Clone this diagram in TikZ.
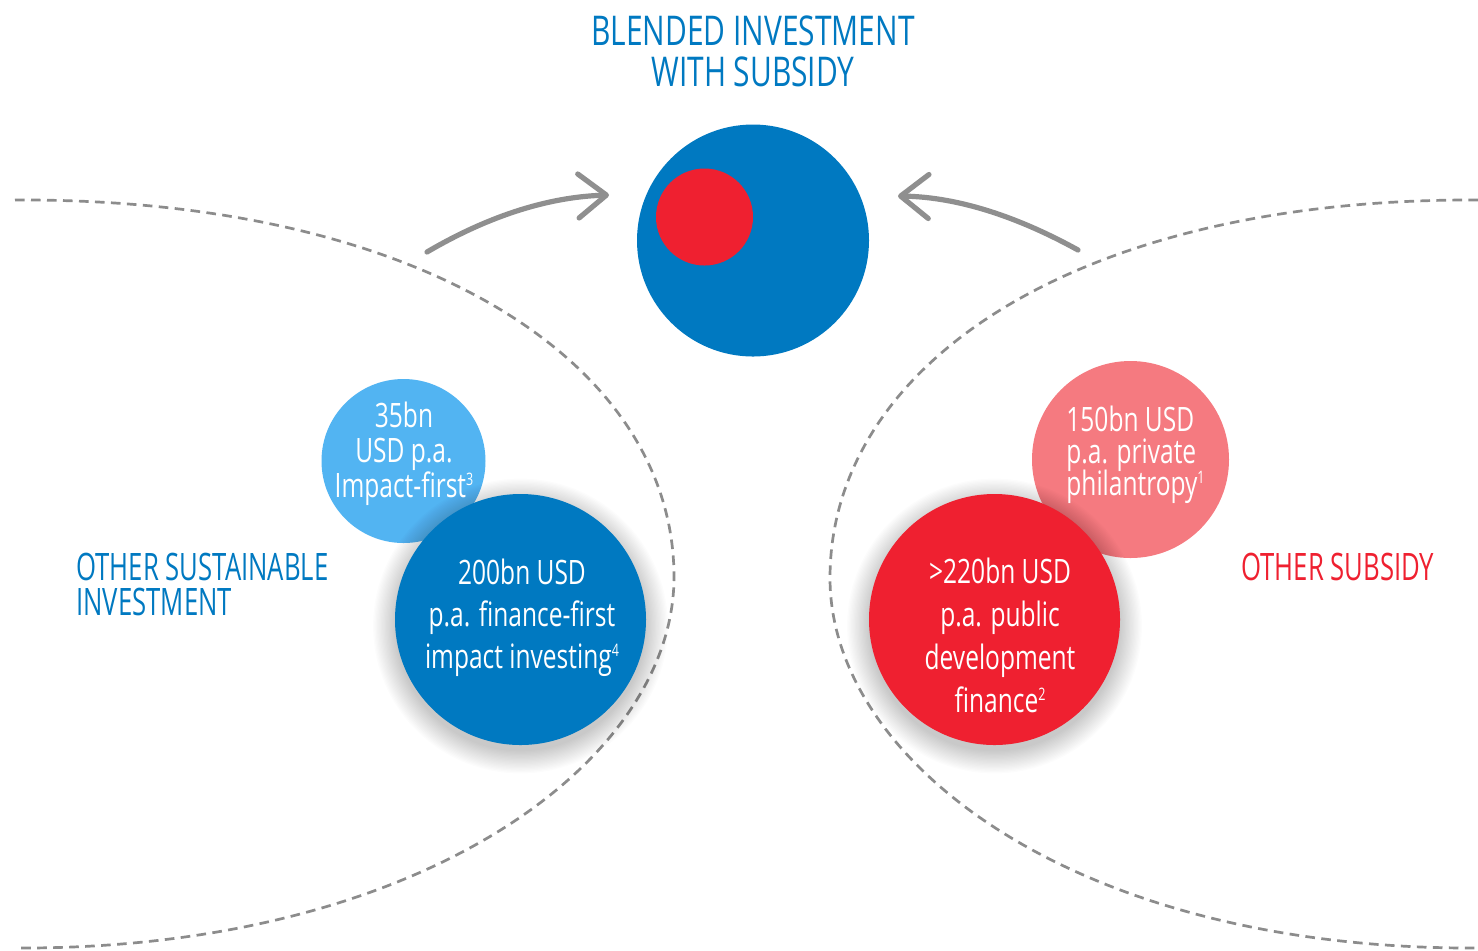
\documentclass[tikz,border=0pt]{standalone}
\usepackage{fontspec}
\setmainfont{Open Sans}[FakeStretch=0.73]
\newfontfamily\lblfont{Open Sans}[FakeStretch=0.68]
\usetikzlibrary{arrows.meta}
\definecolor{mblue}{RGB}{0,121,193}
\definecolor{lblue}{RGB}{82,180,242}
\definecolor{mred}{RGB}{239,32,48}
\definecolor{pink}{RGB}{245,122,128}
\definecolor{agray}{RGB}{143,143,143}
\definecolor{dgray}{RGB}{140,140,140}
\newcommand{\sups}[1]{\raisebox{5.6pt}{\fontsize{8.6}{8.6}\selectfont #1}}
\begin{document}
\begin{tikzpicture}[x=0.5pt,y=-0.5pt,
  dashcurve/.style={draw=dgray, line width=1.35pt, dash pattern=on 4.8pt off 3.2pt},
  arr/.style={draw=agray, line width=2.6pt, line cap=round, -{Straight Barb[length=14pt,width=22pt,round]}},
  disc/.style={circle, inner sep=0pt, outer sep=0pt, fill=#1},
  ctext/.style={text=white, align=center, inner sep=0pt, execute at begin node={\lineskiplimit=-100pt}},
  lbl/.style={inner sep=0pt, font=\lblfont\fontsize{18.9}{17.5}\selectfont},
  shade/.style={fill=black, opacity=0.012}]
\fill[white] (0,0) rectangle (1478,950);
\useasboundingbox (0,0) rectangle (1478,950);

% dashed boundaries
\draw[dashcurve] (15,200) .. controls (420,198) and (674,362) .. (674,577)
  .. controls (674,762) and (420,950) .. (15,948);
\draw[dashcurve] (1478,200) .. controls (1075,198) and (830,365) .. (830,578)
  .. controls (830,762) and (1075,950) .. (1478,948);

% title
\node[ctext, text=mblue, anchor=base, font=\fontsize{20.5}{20.5}\selectfont] (title) at (753,86) {BLENDED INVESTMENT\\WITH SUBSIDY};

% central circle
\node[disc=mblue, minimum size=116pt] (main) at (753,240.5) {};
\node[disc=mred, minimum size=48.5pt] (inner) at (704.5,217) {};

% arrows
\coordinate (la) at (427,252);
\coordinate (lt) at (609,195);
\coordinate (ra) at (1078,250);
\coordinate (rt) at (898,196);
\draw[arr] (la) .. controls (485,218) and (545,197) .. (lt);
\draw[arr] (ra) .. controls (1020,218) and (960,197) .. (rt);

% left group
\node[disc=lblue, minimum size=82pt] (c35) at (403.5,461) {};
\foreach \k in {1,...,18} \fill[shade] (520.5,626) circle [radius=124+1.3*\k];
\node[disc=mblue, minimum size=125.5pt] (c200) at (520.5,619.5) {};

% right group
\node[disc=pink, minimum size=98.5pt] (c150) at (1130.5,459.5) {};
\foreach \k in {1,...,18} \fill[shade] (994.5,626) circle [radius=124+1.3*\k];
\node[disc=mred, minimum size=125.5pt] (c220) at (994.5,619.5) {};

% circle texts
\node[ctext, anchor=base, font=\fontsize{16.8}{17.5}\selectfont] (t35) at (404,497) {35bn\\USD p.a.\\Impact-first\sups{3}};
\node[ctext, anchor=base, font=\fontsize{16.8}{21}\selectfont] (t200) at (522,668) {200bn USD\\p.a. finance-first\\impact investing\sups{4}};
\node[ctext, align=left, anchor=base west, font=\fontsize{16.8}{16}\selectfont] (t150) at (1066,495) {150bn USD\\p.a. private\\philantropy\sups{1}};
\node[ctext, anchor=base, font=\fontsize{16.8}{21.5}\selectfont] (t220) at (1000,712) {>220bn USD\\p.a. public\\development\\finance\sups{2}};

% side labels
\node[lbl, text=mblue, align=left, anchor=base west] (osi) at (76,615) {OTHER SUSTAINABLE\\INVESTMENT};
\node[lbl, text=mred, anchor=base west] (os) at (1241,580) {OTHER SUBSIDY};
\end{tikzpicture}
\end{document}
